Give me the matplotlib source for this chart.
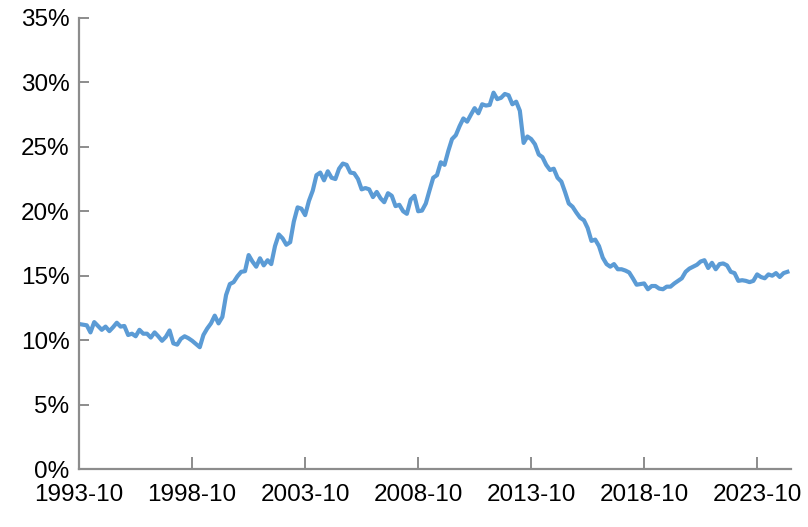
import matplotlib
matplotlib.use("Agg")
import matplotlib.pyplot as plt
import matplotlib.ticker as mticker
import pandas as pd

plt.rcParams['font.family'] = ['Liberation Sans', 'DejaVu Sans']

# bimonthly readings, starting 1993-10 (percent)
start = "1993-10-01"
values = [
    11.25, 11.2, 11.15, 10.6, 11.4, 11.1, 10.8, 11.05, 10.7, 11.0,
    11.35, 11.05, 11.1, 10.4, 10.5, 10.3, 10.8, 10.5, 10.5, 10.2,
    10.6, 10.3, 9.95, 10.25, 10.75, 9.75, 9.65, 10.1, 10.3, 10.15,
    9.95, 9.7, 9.45, 10.4, 10.9, 11.3, 11.9, 11.3, 11.8, 13.5,
    14.35, 14.5, 14.95, 15.3, 15.35, 16.6, 16.1, 15.7, 16.35, 15.8,
    16.2, 15.9, 17.3, 18.2, 17.9, 17.4, 17.6, 19.2, 20.3, 20.2,
    19.7, 20.8, 21.6, 22.8, 23.0, 22.4, 23.1, 22.6, 22.5, 23.3,
    23.7, 23.6, 23.0, 22.95, 22.5, 21.7, 21.8, 21.7, 21.1, 21.5,
    21.0, 20.7, 21.4, 21.2, 20.4, 20.5, 20.0, 19.8, 20.9, 21.2,
    20.0, 20.05, 20.6, 21.6, 22.6, 22.8, 23.8, 23.6, 24.7, 25.6,
    25.9, 26.6, 27.2, 26.95, 27.5, 28.0, 27.6, 28.3, 28.2, 28.25,
    29.2, 28.7, 28.8, 29.1, 29.0, 28.3, 28.5, 27.8, 25.3, 25.8,
    25.6, 25.2, 24.4, 24.2, 23.6, 23.2, 23.3, 22.6, 22.3, 21.5,
    20.6, 20.35, 19.9, 19.5, 19.3, 18.7, 17.7, 17.8, 17.3, 16.4,
    15.9, 15.7, 15.9, 15.5, 15.5, 15.4, 15.25, 14.8, 14.3, 14.35,
    14.4, 13.95, 14.2, 14.2, 14.0, 13.95, 14.15, 14.15, 14.4, 14.6,
    14.8, 15.3, 15.55, 15.7, 15.85, 16.1, 16.2, 15.6, 16.0, 15.5,
    15.9, 15.95, 15.8, 15.3, 15.2, 14.6, 14.65, 14.6, 14.5, 14.6,
    15.1, 14.9, 14.8, 15.1, 15.0, 15.2, 14.9, 15.2, 15.3,
]
tick_labels = ["1993-10", "1998-10", "2003-10", "2008-10", "2013-10", "2018-10", "2023-10"]
y_ticks = [0, 5, 10, 15, 20, 25, 30, 35]

dates = pd.date_range(start, periods=len(values), freq="2MS")
tick_dates = pd.to_datetime(tick_labels, format="%Y-%m")

fig = plt.figure(figsize=(8.08, 5.27), dpi=100)
ax = fig.add_axes([0.098, 0.110, 0.881, 0.856])

ax.plot(dates, values, color="#5B9BD5", linewidth=3.0, solid_joinstyle="round")

ax.set_xlim(pd.Timestamp("1993-10-01"), pd.Timestamp("2025-04-01"))
ax.set_ylim(0, 35)
ax.set_yticks(y_ticks)
ax.yaxis.set_major_formatter(mticker.FuncFormatter(lambda v, p: f"{v:.0f}%"))
ax.set_xticks(tick_dates)
ax.set_xticklabels(tick_labels)

for side in ["top", "right"]:
    ax.spines[side].set_visible(False)
for side in ["left", "bottom"]:
    ax.spines[side].set_color("#8C8C8C")
    ax.spines[side].set_linewidth(1.6)

ax.tick_params(axis="both", direction="in", color="#8C8C8C", width=1.4,
               labelsize=17.5, labelcolor="black")
ax.tick_params(axis="y", length=7, pad=7)
ax.tick_params(axis="x", length=9, pad=11)

fig.savefig("out.png", dpi=100, facecolor="white")
